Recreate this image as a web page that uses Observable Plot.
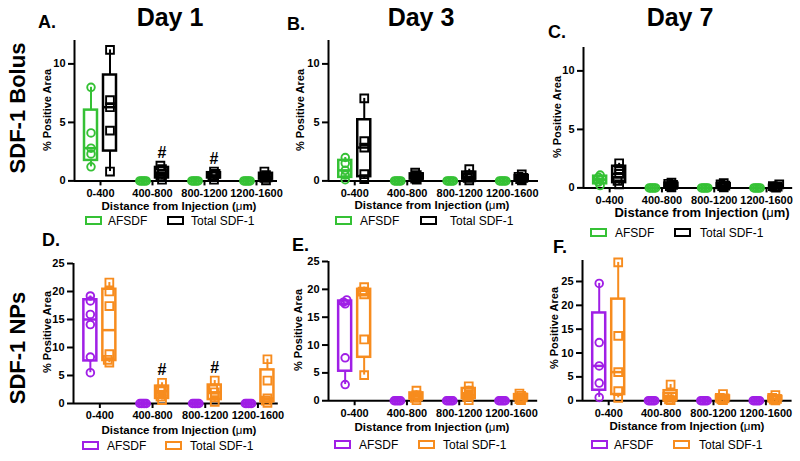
<!DOCTYPE html>
<html><head><meta charset="utf-8">
<script src="https://cdn.jsdelivr.net/npm/d3@7"></script>
<script src="https://cdn.jsdelivr.net/npm/@observablehq/plot@0.6"></script>
<style>
html,body{margin:0;padding:0;background:#fff;}
#root{position:relative;width:800px;height:461px;overflow:hidden;font-family:"Liberation Sans",Arial,sans-serif;color:#000;}
.t{position:absolute;white-space:nowrap;line-height:1;}
.c{transform:translate(-50%,-50%);}
.r{transform:translate(-50%,-50%) rotate(-90deg);}
.plotbox{position:absolute;}
.plotbox svg{background:transparent !important;overflow:visible;max-width:none !important;}
g[aria-label$="axis tick"], g[aria-label$="axis tick"] path{stroke-width:2px;}
.sw{position:absolute;background:#fff;box-sizing:content-box;}
</style></head><body><div id="root"></div>
<script>
// ---------- data ----------
const categories = ["0-400","400-800","800-1200","1200-1600"];
const seriesLabels = ["AFSDF","Total SDF-1"];
const dayTitles = ["Day 1","Day 3","Day 7"];
const panelLetters = ["A.","B.","C.","D.","E.","F."];
const rowLabels = ["SDF-1 Bolus","SDF-1 NPs"];
const yTitle = "% Positive Area";
const xTitle = "Distance from Injection (";
const hashCats = ["400-800","800-1200"];
const ticksBolus = [0,5,10];
const ticksNP = [0,5,10,15,20,25];

// Panel A (Bolus, Day 1)
const afsdfA = [[1.2,2.3,2.8,4.1,8.0],[0,0,0,0,0],[0,0,0,0,0],[0,0,0,0,0]];
const totalA = [[0.8,4.3,6.3,6.9,11.2],[0.1,0.4,0.6,1.0,1.3],[0.1,0.4,0.45,0.6,0.8],[0.05,0.25,0.3,0.5,0.8]];
// Panel B (Bolus, Day 3)
const afsdfB = [[0.1,0.5,0.9,1.5,2.0],[0,0,0,0,0],[0,0,0,0,0],[0,0,0,0,0]];
const totalB = [[0.15,0.57,2.85,3.4,7.05],[0.1,0.2,0.35,0.5,0.7],[0.05,0.25,0.3,0.5,1.0],[0.05,0.15,0.25,0.35,0.55]];
// Panel C (Bolus, Day 7)
const afsdfC = [[0.2,0.5,0.7,0.9,1.1],[0,0,0,0,0],[0,0,0,0,0],[0,0,0,0,0]];
const totalC = [[0.3,0.6,1.2,1.6,2.1],[0.05,0.15,0.25,0.35,0.45],[0.05,0.15,0.2,0.3,0.4],[0.02,0.08,0.1,0.15,0.3]];
// Panel D (NPs, Day 1)
const afsdfD = [[5.5,8.3,14.1,15.9,18.3,19.2],[0,0,0,0,0],[0,0,0,0,0],[0,0,0,0,0]];
const totalD = [[7.3,7.8,8.8,17.4,20.0,21.6],[0.6,1.2,2.2,2.5,3.7],[0.3,1.1,2.0,2.5,4.1],[0.1,0.5,0.9,4.1,7.9]];
// Panel E (NPs, Day 3)
const afsdfE = [[2.9,7.7,17.4,17.7,18.1],[0,0,0,0,0],[0,0,0,0,0],[0,0,0,0,0]];
const totalE = [[4.6,11.0,19.1,19.6,20.4],[0.1,0.5,0.8,1.0,1.8],[0.1,0.7,1.0,1.8,2.6],[0.1,0.3,0.6,0.9,1.3]];
// Panel F (NPs, Day 7)
const afsdfF = [[0.7,3.7,7.3,12.2,24.6],[0,0,0,0,0],[0,0,0,0,0],[0,0,0,0,0]];
const totalF = [[0.6,2.0,6.0,13.6,29.0],[0.1,0.3,0.8,0.8,3.4],[0.1,0.3,0.5,0.6,1.4],[0.05,0.25,0.4,0.6,1.2]];

// ---------- styling / layout ----------
const GREEN = "#35c135", BLACK = "#000", PURPLE = "#a01fe6", ORANGE = "#f78c1e";
const ML = 32, MR = 4, MT = 8, MB = 26;
const OFF = 9.5, BW = 13;

const panels = [
  {a: afsdfA, t: totalA, c1: GREEN, c2: BLACK, x0: 74, step: 52, y0: 180.5, ymax: 12, ppu: 11.7, ticks: ticksBolus, hash: true, inset: 5},
  {a: afsdfB, t: totalB, c1: GREEN, c2: BLACK, x0: 328, step: 52.5, y0: 180, ymax: 12, ppu: 11.7, ticks: ticksBolus, hash: false, inset: 0},
  {a: afsdfC, t: totalC, c1: GREEN, c2: BLACK, x0: 582.5, step: 52.3, y0: 187.3, ymax: 12, ppu: 11.7, ticks: ticksBolus, hash: false, inset: 0},
  {a: afsdfD, t: totalD, c1: PURPLE, c2: ORANGE, x0: 73, step: 52.7, y0: 402.7, ymax: 25, ppu: 5.6, ticks: ticksNP, hash: true, inset: 6},
  {a: afsdfE, t: totalE, c1: PURPLE, c2: ORANGE, x0: 327.5, step: 52.3, y0: 400, ymax: 25, ppu: 5.57, ticks: ticksNP, hash: false, inset: 0},
  {a: afsdfF, t: totalF, c1: PURPLE, c2: ORANGE, x0: 581.5, step: 52.4, y0: 400, ymax: 29.4, ppu: 4.77, ticks: ticksNP, hash: false, inset: 0}
];

function gpQuantile(s, p) {
  const n = s.length;
  let pos = (n + 1) * p;
  if (pos < 1) pos = 1;
  if (pos > n) pos = n;
  const lo = Math.floor(pos), f = pos - lo;
  if (lo >= n) return s[n - 1];
  return s[lo - 1] + f * (s[lo] - s[lo - 1]);
}
function stats(arr) {
  return arr.map((vals, i) => {
    const s = [...vals].sort(d3.ascending);
    return {cat: categories[i], lo: s[0], q1: gpQuantile(s, .25), med: gpQuantile(s, .5), q3: gpQuantile(s, .75), hi: s[s.length - 1]};
  });
}
function spread(arr, ppu, gap) {
  const rows = [];
  const seq = [0, -1, 1, -2, 2, -3, 3, -4, 4];
  arr.forEach((vals, i) => {
    const placed = [];
    vals.forEach(v => {
      const py = v * ppu;
      const near = placed.filter(p => Math.abs(p.py - py) < 4).map(p => p.o);
      let o = 0;
      for (const m of seq) { if (!near.includes(m * gap)) { o = m * gap; break; } }
      placed.push({py, o});
      rows.push({cat: categories[i], v, o});
    });
  });
  return rows;
}

const root = document.getElementById("root");

panels.forEach(cfg => {
  const innerW = 4 * cfg.step, innerH = cfg.ymax * cfg.ppu;
  const W = ML + innerW + MR, H = MT + innerH + MB;
  const marks = [];
  marks.push(Plot.ruleY([0], {strokeWidth: 2, insetRight: cfg.inset}));
  marks.push(Plot.ruleX([categories[0]], {x: d => d, y1: 0, y2: cfg.ymax, dx: -cfg.step / 2, strokeWidth: 2}));
  [[cfg.a, cfg.c1, "circle", -OFF], [cfg.t, cfg.c2, "square", OFF]].forEach(([data, color, sym, off]) => {
    const st = stats(data);
    const inL = cfg.step / 2 + off - BW / 2, inR = cfg.step - inL - BW;
    marks.push(Plot.ruleX(st, {x: "cat", y1: "lo", y2: "hi", dx: off, stroke: color, strokeWidth: 2}));
    marks.push(Plot.barY(st, {x: "cat", y1: "q1", y2: "q3", insetLeft: inL, insetRight: inR, fill: "white", stroke: color, strokeWidth: 2.5}));
    marks.push(Plot.tickY(st, {x: "cat", y: "med", insetLeft: inL, insetRight: inR, stroke: color, strokeWidth: 2.5}));
    const pts = spread(data, cfg.ppu, 1.6);
    const offs = [...new Set(pts.map(p => p.o))];
    offs.forEach(o => marks.push(Plot.dot(pts.filter(p => p.o === o), {
      x: "cat", y: "v", dx: off + o, r: sym === "circle" ? 3.8 : 4.4, symbol: sym,
      stroke: color, strokeWidth: 1.9, fill: "none"
    })));
  });
  if (cfg.hash) {
    const tot = stats(cfg.t).filter(d => hashCats.includes(d.cat));
    marks.push(Plot.text(tot, {x: "cat", y: "hi", text: () => "#", dx: OFF, dy: -13, fontSize: 16, fontWeight: "bold"}));
  }
  const svg = Plot.plot({
    width: W, height: H,
    marginLeft: ML, marginRight: MR, marginTop: MT, marginBottom: MB,
    x: {type: "band", domain: categories, padding: 0, round: false, tickSize: 5, tickPadding: 3, label: null},
    y: {domain: [0, cfg.ymax], ticks: cfg.ticks, tickSize: 6, tickPadding: 3, label: null, nice: false},
    style: {fontFamily: "Liberation Sans, Arial, sans-serif", fontSize: "11px", fontWeight: "bold", background: "transparent", color: "#000"},
    marks
  });
  const box = document.createElement("div");
  box.className = "plotbox";
  box.style.left = (cfg.x0 - ML) + "px";
  box.style.top = (cfg.y0 - innerH - MT) + "px";
  box.appendChild(svg);
  root.appendChild(box);
});

function addText(txt, x, y, cls, css) {
  const d = document.createElement("div");
  d.className = "t " + cls;
  d.style.left = x + "px"; d.style.top = y + "px";
  Object.assign(d.style, css);
  if (typeof txt === "string") d.textContent = txt; else d.appendChild(txt);
  root.appendChild(d);
  return d;
}
// Day titles
[[170, 17], [421, 17], [680, 17]].forEach((p, i) => addText(dayTitles[i], p[0], p[1], "c", {fontWeight: "bold", fontSize: "25px"}));
// Panel letters
[[38, 22], [287, 24], [548, 32], [42, 240], [292, 245], [553, 247]].forEach((p, i) =>
  addText(panelLetters[i], p[0], p[1], "", {fontWeight: "bold", fontSize: "18px", transform: "translateY(-50%)"}));
// Row labels
[[18, 108], [18, 348]].forEach((p, i) => addText(rowLabels[i], p[0], p[1], "r", {fontWeight: "bold", fontSize: "22px"}));
// Y titles
[[47, 110], [300, 110], [557, 117], [47, 332], [298, 330], [554, 328]].forEach(p =>
  addText(yTitle, p[0], p[1], "r", {fontWeight: "bold", fontSize: "11px"}));
// X titles
[[179, 207, 11.5], [432, 206, 11.5], [702, 212, 13], [179, 431, 11.5], [432, 428, 11.5], [687, 427, 11.5]].forEach(p => {
  const s = document.createElement("span");
  s.appendChild(document.createTextNode(xTitle));
  const mu = document.createElement("span"); mu.textContent = "\u03bc"; mu.style.fontWeight = "normal";
  s.appendChild(mu);
  s.appendChild(document.createTextNode("m)"));
  addText(s, p[0], p[1], "c", {fontWeight: "bold", fontSize: p[2] + "px"});
});
// Legends
const legends = [
  {y: 221, c: [GREEN, BLACK], s: [85, 167], tx: [108, 191]},
  {y: 221, c: [GREEN, BLACK], s: [335, 420], tx: [360, 450]},
  {y: 233, c: [GREEN, BLACK], s: [590, 674], tx: [615, 700]},
  {y: 446, c: [PURPLE, ORANGE], s: [82, 165], tx: [107, 190]},
  {y: 445, c: [PURPLE, ORANGE], s: [334, 418], tx: [359, 443]},
  {y: 445, c: [PURPLE, ORANGE], s: [591, 673], tx: [614, 699]}
];
legends.forEach(L => {
  [0, 1].forEach(k => {
    const sw = document.createElement("div");
    sw.className = "sw";
    Object.assign(sw.style, {left: L.s[k] + "px", top: (L.y - 5) + "px", width: "13px", height: "5px", border: "2.5px solid " + L.c[k]});
    root.appendChild(sw);
    addText(seriesLabels[k], L.tx[k], L.y, "", {fontSize: "12px", transform: "translateY(-50%)"});
  });
});
</script></body></html>
